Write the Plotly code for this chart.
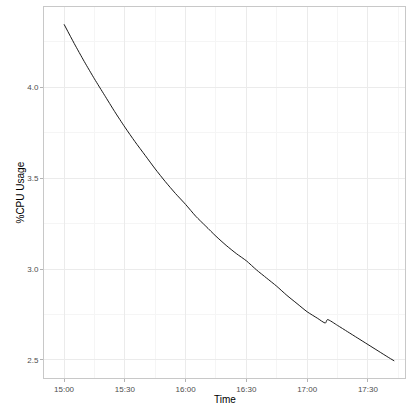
import plotly.graph_objects as go
import pandas as pd

# minutes after 15:00 and %CPU usage
minutes = [0, 5, 10, 15, 20, 25, 30, 35, 40, 45, 50, 55, 60, 65, 70, 75, 80, 85, 90, 95,
           100, 105, 110, 115, 120, 125, 129, 130, 135, 140, 145, 150, 155, 160, 163]
cpu = [4.345, 4.24, 4.14, 4.045, 3.955, 3.865, 3.78, 3.70, 3.625, 3.55, 3.48, 3.415,
       3.355, 3.29, 3.235, 3.18, 3.13, 3.085, 3.045, 2.995, 2.95, 2.905, 2.855, 2.81,
       2.765, 2.73, 2.703, 2.722, 2.69, 2.655, 2.62, 2.585, 2.55, 2.515, 2.495]
y_ticks = [2.5, 3.0, 3.5, 4.0]
y_tick_labels = ["2.5", "3.0", "3.5", "4.0"]

base = pd.Timestamp("2020-01-01 15:00")
times = [base + pd.Timedelta(minutes=m) for m in minutes]

fig = go.Figure()
fig.add_trace(go.Scatter(x=times, y=cpu, mode="lines", line_shape="spline",
                         line=dict(color="#1a1a1a", width=1.0, smoothing=0.6),
                         showlegend=False))

x_start = base - pd.Timedelta(minutes=9.9)
x_end = base + pd.Timedelta(minutes=168.3)

fig.update_layout(
    width=406, height=406,
    margin=dict(l=44, r=1, t=7, b=28, autoexpand=False),
    paper_bgcolor="white", plot_bgcolor="white",
    font=dict(family="Liberation Sans, Arial, sans-serif", size=8, color="#4d4d4d"),
    xaxis=dict(
        range=[x_start, x_end], type="date", automargin=False,
        tick0=base, dtick=30 * 60 * 1000, tickformat="%H:%M",
        showgrid=True, gridcolor="#ebebeb", gridwidth=1,
        minor=dict(dtick=15 * 60 * 1000, tick0=base, showgrid=True,
                   gridcolor="#f5f5f5", gridwidth=0.6),
        ticks="outside", ticklen=3, tickcolor="#b3b3b3", tickwidth=1,
        showline=True, mirror=True, linecolor="#c8c8c8", linewidth=1,
        zeroline=False,
        tickfont=dict(size=8, color="#4d4d4d"),
    ),
    yaxis=dict(
        range=[2.401, 4.44], automargin=False,
        tickvals=y_ticks, ticktext=y_tick_labels,
        showgrid=True, gridcolor="#ebebeb", gridwidth=1,
        minor=dict(tickvals=[2.75, 3.25, 3.75, 4.25], showgrid=True,
                   gridcolor="#f5f5f5", gridwidth=0.6),
        ticks="outside", ticklen=3, tickcolor="#b3b3b3", tickwidth=1,
        showline=True, mirror=True, linecolor="#c8c8c8", linewidth=1,
        zeroline=False,
        tickfont=dict(size=8, color="#4d4d4d"),
    ),
    annotations=[
        dict(text="Time", xref="paper", yref="paper", x=0.5, y=0,
             xanchor="center", yanchor="top", yshift=-14, showarrow=False,
             font=dict(size=10, color="black")),
        dict(text="%CPU Usage", xref="paper", yref="paper", x=0, y=0.5,
             xanchor="center", yanchor="middle", xshift=-24, textangle=-90,
             showarrow=False, font=dict(size=10, color="black")),
    ],
)

fig.write_html("out.html", config={"displayModeBar": False},
               post_script="document.body.style.margin='0';document.body.style.overflow='hidden';")
